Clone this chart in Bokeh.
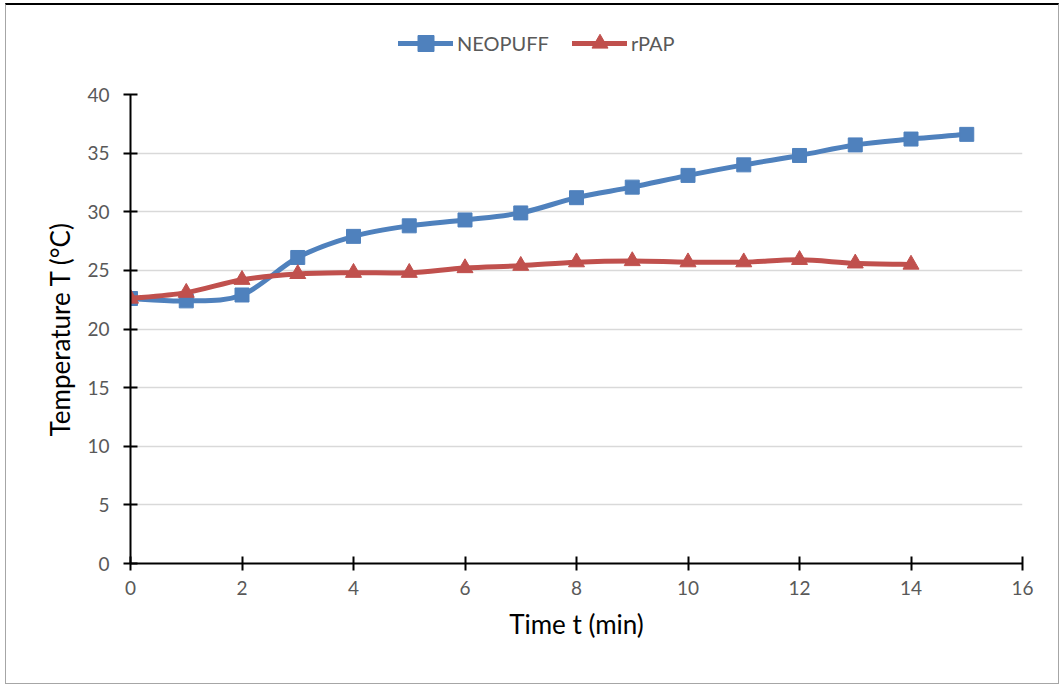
import numpy as np
from bokeh.plotting import figure
from bokeh.layouts import column
from bokeh.models import Range1d, Legend, LegendItem, ColumnDataSource
from bokeh.embed import file_html
from bokeh.resources import INLINE

# ---- data ----
time_neopuff = [0, 1, 2, 3, 4, 5, 6, 7, 8, 9, 10, 11, 12, 13, 14, 15]
temp_neopuff = [22.6, 22.4, 22.9, 26.1, 27.9, 28.8, 29.3, 29.9, 31.2, 32.1, 33.1, 34.0, 34.8, 35.7, 36.2, 36.6]
time_rpap = [0, 1, 2, 3, 4, 5, 6, 7, 8, 9, 10, 11, 12, 13, 14]
temp_rpap = [22.6, 23.1, 24.2, 24.7, 24.8, 24.8, 25.2, 25.4, 25.7, 25.8, 25.7, 25.7, 25.9, 25.6, 25.5]
series_names = ["NEOPUFF", "rPAP"]
x_ticks = [0, 2, 4, 6, 8, 10, 12, 14, 16]
y_ticks = [0, 5, 10, 15, 20, 25, 30, 35, 40]
x_title = "Time t (min)"
y_title = "Temperature T (°C)"

BLUE = "#4f81bd"
RED = "#c0504d"
FONT = "Lato"
LW = 5


def smooth_segments(xs, ys):
    """Cubic Bezier control points (Catmull-Rom style) for a smoothed line."""
    x = np.asarray(xs, float)
    y = np.asarray(ys, float)
    xp = np.concatenate([[x[0]], x, [x[-1]]])
    yp = np.concatenate([[y[0]], y, [y[-1]]])
    n = len(x)
    d = dict(x0=[], y0=[], x1=[], y1=[], cx0=[], cy0=[], cx1=[], cy1=[])
    for i in range(n - 1):
        p0 = (xp[i], yp[i]); p1 = (xp[i + 1], yp[i + 1])
        p2 = (xp[i + 2], yp[i + 2]); p3 = (xp[i + 3], yp[i + 3])
        d["x0"].append(p1[0]); d["y0"].append(p1[1])
        d["x1"].append(p2[0]); d["y1"].append(p2[1])
        d["cx0"].append(p1[0] + (p2[0] - p0[0]) / 6.0)
        d["cy0"].append(p1[1] + (p2[1] - p0[1]) / 6.0)
        d["cx1"].append(p2[0] - (p3[0] - p1[0]) / 6.0)
        d["cy1"].append(p2[1] - (p3[1] - p1[1]) / 6.0)
    return ColumnDataSource(d)


series = [(time_neopuff, temp_neopuff, BLUE, "square", 14),
          (time_rpap, temp_rpap, RED, "triangle", 16)]

# ---- legend strip (own small figure; its data lie outside its view) ----
pl = figure(width=1052, height=77, output_backend="svg", toolbar_location=None,
            x_axis_type=None, y_axis_type=None,
            x_range=Range1d(0, 16), y_range=Range1d(1000, 1001),
            min_border=0, min_border_left=0, min_border_right=0,
            min_border_top=0, min_border_bottom=0)
pl.outline_line_color = None
pl.xgrid.visible = False
pl.ygrid.visible = False
items = []
for name, (xs, ys, color, marker, size) in zip(series_names, series):
    lr = pl.line(xs, ys, line_color=color, line_width=LW, line_cap="round")
    sr = pl.scatter(xs, ys, marker=marker, size=size, fill_color=color,
                    line_color=color)
    items.append(LegendItem(label=name, renderers=[lr, sr]))
legend = Legend(items=items, orientation="horizontal", location=(268, 19),
                border_line_color=None, background_fill_alpha=0,
                padding=0, margin=0, spacing=23, label_standoff=4,
                glyph_width=55, glyph_height=40,
                label_text_font=FONT, label_text_font_size="20px",
                label_text_color="#595959")
pl.add_layout(legend, "center")

# ---- main chart ----
p = figure(width=1052, height=601, output_backend="svg", toolbar_location=None,
           x_range=Range1d(0, 16), y_range=Range1d(0, 40),
           min_border_left=124, min_border_right=36,
           min_border_top=12, min_border_bottom=120)
p.outline_line_color = None
p.background_fill_color = "white"
p.border_fill_color = "white"

for ax in (p.xaxis[0], p.yaxis[0]):
    ax.axis_line_color = "black"
    ax.axis_line_width = 2
    ax.major_tick_line_color = "black"
    ax.major_tick_line_width = 2
    ax.major_tick_in = 7
    ax.major_tick_out = 7
    ax.minor_tick_line_color = None
    ax.major_label_text_font = FONT
    ax.major_label_text_font_size = "19px"
    ax.major_label_text_color = "#595959"
    ax.axis_label_text_font = FONT
    ax.axis_label_text_font_size = "26px"
    ax.axis_label_text_font_style = "normal"
    ax.axis_label_text_color = "black"
p.xaxis.ticker = x_ticks
p.yaxis.ticker = y_ticks
p.xaxis.major_label_standoff = 10
p.yaxis.major_label_standoff = 14
p.xaxis.axis_label = x_title
p.yaxis.axis_label = y_title
p.xaxis.axis_label_standoff = 10
p.yaxis.axis_label_standoff = 8

p.xgrid.grid_line_color = None
p.ygrid.grid_line_color = "#d9d9d9"
p.ygrid.grid_line_width = 1.3

for xs, ys, color, marker, size in series:
    src = smooth_segments(xs, ys)
    p.bezier(x0="x0", y0="y0", x1="x1", y1="y1", cx0="cx0", cy0="cy0",
             cx1="cx1", cy1="cy1", source=src, line_color=color,
             line_width=LW, line_cap="round")
    p.scatter(xs, ys, marker=marker, size=size, fill_color=color,
              line_color=color)

page = column(pl, p, spacing=0,
              styles={"margin-left": "5px", "margin-top": "3px",
                      "border-top": "2px solid black",
                      "border-left": "1px solid #a6a6a6",
                      "border-right": "1px solid #a6a6a6",
                      "border-bottom": "1px solid #a6a6a6"})

open("out.html", "w").write(file_html(page, INLINE))
